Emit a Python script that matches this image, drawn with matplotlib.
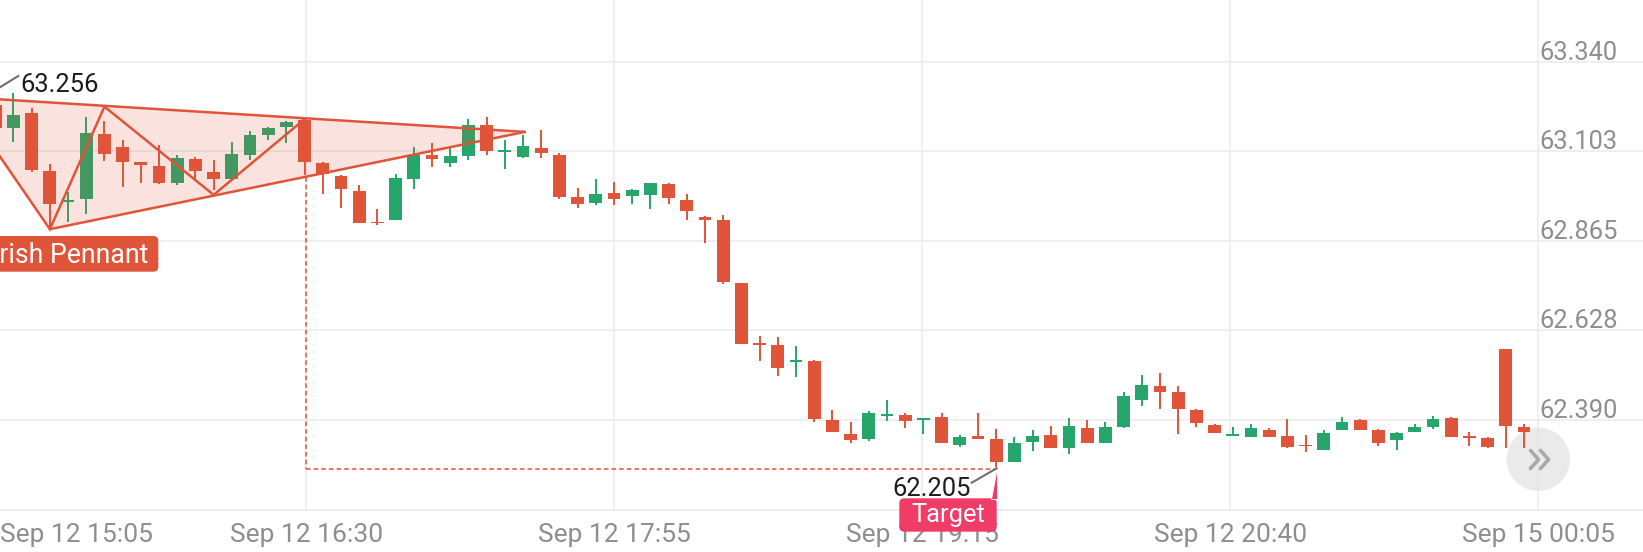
import matplotlib
matplotlib.use("Agg")
import matplotlib.pyplot as plt
import matplotlib.transforms as mtransforms
from matplotlib.patches import Rectangle, FancyBboxPatch, Circle, Polygon
from matplotlib.lines import Line2D

plt.rcParams['font.family'] = ['Roboto', 'DejaVu Sans']

# ---------------- data (5-minute candles, index 0..84) ----------------
opens = [63.225, 63.163, 63.205, 63.050, 62.969, 62.975, 63.148, 63.115, 63.073, 63.064,
         63.019, 63.081, 63.047, 63.028, 63.093, 63.146, 63.168, 63.185, 63.072, 63.037,
         62.997, 62.916, 62.920, 63.028, 63.093, 63.071, 63.091, 63.172, 63.101, 63.087,
         63.112, 63.093, 62.982, 62.965, 62.991, 62.984, 62.987, 63.015, 62.973, 62.928,
         62.920, 62.754, 62.594, 62.589, 62.544, 62.547, 62.390, 62.353, 62.339, 62.402,
         62.403, 62.391, 62.397, 62.324, 62.348, 62.339, 62.280, 62.333, 62.350, 62.315,
         62.368, 62.330, 62.371, 62.443, 62.480, 62.465, 62.417, 62.377, 62.349, 62.346,
         62.364, 62.348, 62.323, 62.311, 62.365, 62.390, 62.365, 62.337, 62.359, 62.372,
         62.395, 62.345, 62.342, 62.578, 62.372]
highs = [63.244, 63.256, 63.217, 63.069, 62.995, 63.193, 63.183, 63.132, 63.073, 63.119,
         63.093, 63.088, 63.079, 63.128, 63.156, 63.168, 63.183, 63.190, 63.073, 63.040,
         63.013, 62.949, 63.042, 63.115, 63.124, 63.110, 63.187, 63.194, 63.132, 63.146,
         63.159, 63.097, 63.006, 63.028, 63.022, 63.003, 63.018, 63.018, 62.989, 62.931,
         62.934, 62.754, 62.613, 62.609, 62.587, 62.549, 62.417, 62.386, 62.414, 62.443,
         62.408, 62.393, 62.410, 62.350, 62.408, 62.366, 62.346, 62.365, 62.375, 62.395,
         62.390, 62.384, 62.464, 62.509, 62.514, 62.480, 62.419, 62.380, 62.372, 62.379,
         62.368, 62.393, 62.350, 62.364, 62.397, 62.393, 62.366, 62.359, 62.379, 62.402,
         62.399, 62.359, 62.346, 62.578, 62.380]
lows = [63.143, 63.128, 63.048, 62.894, 62.914, 62.936, 63.077, 63.009, 63.018, 63.016,
        63.013, 63.026, 63.000, 63.026, 63.079, 63.132, 63.125, 63.040, 62.989, 62.951,
        62.913, 62.907, 62.920, 63.002, 63.062, 63.062, 63.079, 63.093, 63.056, 63.084,
        63.084, 62.975, 62.953, 62.960, 62.960, 62.963, 62.949, 62.963, 62.920, 62.859,
        62.751, 62.592, 62.547, 62.507, 62.505, 62.386, 62.359, 62.328, 62.335, 62.388,
        62.370, 62.352, 62.330, 62.319, 62.339, 62.266, 62.280, 62.309, 62.315, 62.299,
        62.330, 62.330, 62.368, 62.427, 62.419, 62.353, 62.371, 62.355, 62.348, 62.345,
        62.346, 62.315, 62.306, 62.311, 62.364, 62.365, 62.321, 62.311, 62.358, 62.366,
        62.346, 62.322, 62.317, 62.317, 62.317]
closes = [63.163, 63.199, 63.053, 62.963, 62.970, 63.152, 63.095, 63.075, 63.066, 63.019,
          63.084, 63.051, 63.028, 63.095, 63.146, 63.163, 63.179, 63.075, 63.042, 63.002,
          62.913, 62.912, 63.031, 63.093, 63.082, 63.091, 63.172, 63.103, 63.102, 63.117,
          63.097, 62.981, 62.963, 62.989, 62.975, 63.000, 63.018, 62.979, 62.944, 62.920,
          62.757, 62.592, 62.588, 62.527, 62.547, 62.392, 62.359, 62.337, 62.408, 62.404,
          62.388, 62.392, 62.330, 62.346, 62.339, 62.280, 62.328, 62.348, 62.315, 62.374,
          62.330, 62.371, 62.454, 62.483, 62.465, 62.419, 62.383, 62.355, 62.351, 62.368,
          62.346, 62.319, 62.320, 62.355, 62.386, 62.365, 62.328, 62.357, 62.372, 62.393,
          62.346, 62.343, 62.319, 62.375, 62.359]

y_ticks = [63.340, 63.103, 62.865, 62.628, 62.390]
y_tick_labels = ["63.340", "63.103", "62.865", "62.628", "62.390"]
x_tick_pos = [17.08, 34.0, 50.92, 67.85, 84.77]
x_tick_labels = ["Sep 12 16:30", "Sep 12 17:55", "Sep 12 19:15", "Sep 12 20:40", "Sep 15 00:05"]
first_x_label = "Sep 12 15:05"

# pennant drawing (candle index, price)
zigzag_idx = [-2.0, 3.0, 6.0, 12.0, 17.0]
zigzag_price = [63.247, 62.896, 63.221, 62.987, 63.188]
apex_idx, apex_price = 29.1, 63.154
breakout_idx = 17.08
target_idx = 55.03
target_line_price = 62.2595
high_label = "63.256"
target_label = "62.205"

# ---------------- styling ----------------
W, H = 1643, 552
RED = '#e05439'
GREEN = '#26a66a'
GRID = '#ebebeb'
LABEL = '#8e8e8e'
PINK = '#ef3d68'
DARK = '#1c1c1c'

fig = plt.figure(figsize=(W / 100, H / 100), dpi=100)
ax = fig.add_axes([0, 42 / H, 1, 510 / H])
ax.set_xlim(0.26, 90.54)
ax.set_ylim(62.1516, 63.5036)
ax.set_xticks([])
ax.set_yticks([])
for s in ['top', 'left', 'right']:
    ax.spines[s].set_visible(False)
ax.spines['bottom'].set_color(GRID)
ax.spines['bottom'].set_linewidth(1.2)

pxT = mtransforms.Affine2D().scale(1 / W, 1 / H) + fig.transFigure  # pixel coords, origin bottom-left

# grid
for v in y_ticks:
    ax.axhline(v, color=GRID, lw=1.1, zorder=0)
for v in x_tick_pos:
    ax.axvline(v, color=GRID, lw=1.1, zorder=0)

# candles
BW = 0.70
MINH = 0.004
for i, (o, h, l, c) in enumerate(zip(opens, highs, lows, closes)):
    col = GREEN if c >= o else RED
    ax.vlines(i, l, h, color=col, lw=1.4, zorder=2)
    bot = min(o, c)
    hgt = max(abs(c - o), MINH)
    ax.add_patch(Rectangle((i - BW / 2, bot), BW, hgt, facecolor=col, edgecolor='none', zorder=2.1))

# pennant
A = (zigzag_idx[0], zigzag_price[0])
B = (zigzag_idx[1], zigzag_price[1])
F = (apex_idx, apex_price)
ax.add_patch(Polygon([A, F, B], closed=True, facecolor=RED, alpha=0.16, edgecolor='none', zorder=3))
ax.plot([A[0], F[0]], [A[1], F[1]], color=RED, lw=1.8, zorder=4, solid_capstyle='round')
ax.plot([B[0], F[0]], [B[1], F[1]], color=RED, lw=1.8, zorder=4, solid_capstyle='round')
ax.plot(zigzag_idx, zigzag_price, color=RED, lw=1.8, zorder=4, solid_joinstyle='miter')

# target projection (dashed)
lower_at_break = B[1] + (F[1] - B[1]) * (breakout_idx - B[0]) / (F[0] - B[0])
ax.plot([breakout_idx, breakout_idx], [lower_at_break, target_line_price], color=RED, lw=1.1,
        ls=(0, (3, 2)), zorder=4)
ax.plot([breakout_idx, target_idx], [target_line_price, target_line_price], color=RED, lw=1.1,
        ls=(0, (3, 2)), zorder=4)

# scroll button (behind candles)
ax.add_patch(Circle((1538.3, H - 459.3), 31.7, transform=pxT, facecolor='#e2e2e2', alpha=0.7,
                    edgecolor='none', zorder=1.5))
for x0 in (1530.5, 1540.5):
    fig.add_artist(Line2D([x0, x0 + 8, x0], [H - 450.5, H - 459.5, H - 468.5], transform=pxT,
                          color='#a9a9a9', lw=2.6, solid_capstyle='round', solid_joinstyle='round',
                          zorder=6))

# y tick labels
ytr = mtransforms.blended_transform_factory(pxT, ax.transData) + mtransforms.Affine2D().translate(0, 2)
for v, lab in zip(y_ticks, y_tick_labels):
    fig.text(1539.5, v, lab, transform=ytr, ha='left', va='baseline', color=LABEL, fontsize=18.4, zorder=3)

# x tick labels
xtr = mtransforms.blended_transform_factory(ax.transData, pxT)
fig.text(0.5, H - 541.7, first_x_label, transform=pxT, ha='left', va='baseline', color=LABEL,
         fontsize=19, zorder=3)
for v, lab in zip(x_tick_pos, x_tick_labels):
    fig.text(v, H - 541.7, lab, transform=xtr, ha='center', va='baseline', color=LABEL,
             fontsize=19, zorder=3)

# high label
fig.add_artist(Line2D([-15, 18.3], [H - 96.5, H - 76], transform=pxT, color='#6f6f6f', lw=1.5, zorder=6))
fig.text(20, H - 91.7, high_label, transform=pxT, ha='left', va='baseline', color=DARK, fontsize=18.4, zorder=6)

# Bearish Pennant tag (runs off the left edge, as in the source view)
fig.add_artist(FancyBboxPatch((-20, H - 271.7), 178.3, 35.7, transform=pxT,
                              boxstyle='round,pad=0,rounding_size=5', facecolor=RED, edgecolor='none', zorder=5))
fig.text(148.3, H - 263.3, "Bearish Pennant", transform=pxT, ha='right', va='baseline', color='white',
         fontsize=19.2, zorder=6)

# Target tag + pointer + price
fig.add_artist(FancyBboxPatch((899.3, H - 531.7), 97.4, 33.4, transform=pxT,
                              boxstyle='round,pad=0,rounding_size=5', facecolor=PINK, edgecolor='none', zorder=5))
fig.add_artist(Polygon([(990.5, H - 499), (996.7, H - 499), (996.7, H - 466.7)], closed=True, transform=pxT,
                       facecolor=PINK, edgecolor='white', lw=0.6, zorder=5))
fig.text(948, H - 521.7, "Target", transform=pxT, ha='center', va='baseline', color='white',
         fontsize=18.4, zorder=6)
fig.add_artist(Line2D([971.7, 996.7], [H - 482.7, H - 468.3], transform=pxT, color='#6f6f6f', lw=1.5, zorder=6))
fig.text(970.7, H - 496, target_label, transform=pxT, ha='right', va='baseline', color=DARK,
         fontsize=18.4, zorder=6)

fig.savefig("out.png", dpi=100, facecolor='white')
